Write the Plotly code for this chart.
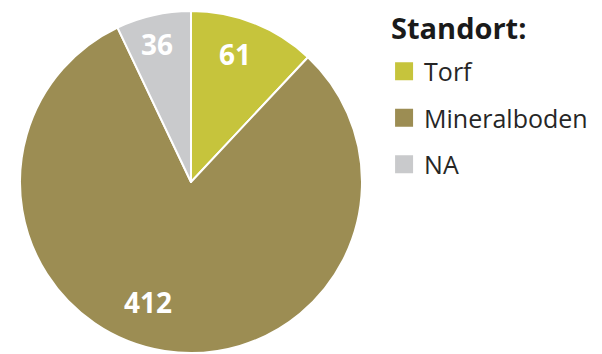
import math
import plotly.graph_objects as go

# Standort categories and counts
categories = ["Torf", "Mineralboden", "NA"]
counts = [61, 412, 36]
colors = ["#c6c43c", "#9c8d53", "#c9cacc"]
legend_title = "Standort:"

W, H = 602, 354
FONT = "Open Sans"

# pie placement in pixels
pie_left, pie_right = 20, 362
pie_top, pie_bottom = 11, 353
cx = (pie_left + pie_right) / 2
cy = (pie_top + pie_bottom) / 2
R = (pie_right - pie_left) / 2

# value label placement: radial fraction and angular nudge per slice
label_radius = [0.79, 0.745, 0.83]
label_nudge_deg = [-2.5, 11.0, -1.0]

fig = go.Figure()

fig.add_trace(go.Pie(
    labels=categories,
    values=counts,
    textinfo="none",
    marker=dict(colors=colors, line=dict(color="white", width=2)),
    sort=False,
    direction="clockwise",
    rotation=0,
    showlegend=False,
    hoverinfo="label+value",
    domain=dict(x=[pie_left / W, pie_right / W], y=[1 - pie_bottom / H, 1 - pie_top / H]),
))

# value labels at each slice's mid-angle (clockwise from 12 o'clock)
total = sum(counts)
start = 0.0
for v, rf, nudge in zip(counts, label_radius, label_nudge_deg):
    span = 360.0 * v / total
    ang = math.radians(start + span / 2 + nudge)
    px = cx + rf * R * math.sin(ang)
    py = cy - rf * R * math.cos(ang)
    fig.add_annotation(
        x=px / W, y=1 - py / H, xref="paper", yref="paper",
        text=f"<b>{v}</b>", showarrow=False, xanchor="center", yanchor="middle",
        font=dict(family=FONT, size=28, color="white"),
    )
    start += span

# legend heading
fig.add_annotation(
    x=389 / W, y=1 - 27 / H, xref="paper", yref="paper",
    text=f"<b>{legend_title}</b>", showarrow=False, xanchor="left", yanchor="middle",
    font=dict(family=FONT, size=29, color="#1a1a1a"),
)

# legend entries with square swatches
for name, col in zip(categories, colors):
    fig.add_trace(go.Scatter(
        x=[None], y=[None], mode="markers", name=name, legendgroup=name,
        marker=dict(symbol="square", size=16, color=col, line=dict(color=col, width=2)),
    ))

fig.update_layout(
    width=W, height=H,
    margin=dict(l=0, r=0, t=0, b=0),
    paper_bgcolor="white",
    plot_bgcolor="white",
    xaxis=dict(visible=False),
    yaxis=dict(visible=False),
    legend=dict(
        x=0.638, y=1 - 48.5 / H, xanchor="left", yanchor="top",
        font=dict(family=FONT, size=25, color="#262626"),
        tracegroupgap=11,
        bgcolor="rgba(0,0,0,0)",
    ),
)

fig.write_html("out.html")
